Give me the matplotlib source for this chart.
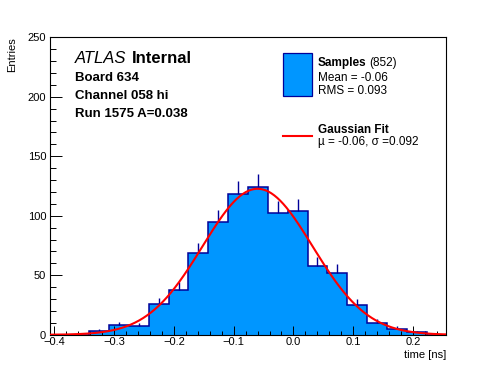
import numpy as np
import matplotlib
matplotlib.use("Agg")
import matplotlib.pyplot as plt
from matplotlib.patches import Rectangle
from matplotlib.lines import Line2D
from matplotlib.ticker import MultipleLocator

plt.rcParams['font.family'] = ['Liberation Sans', 'DejaVu Sans']

# Histogram of sample times (20 bins)
x_min = -0.408
x_max = 0.256
counts = [0, 0, 3, 8, 7, 26, 38, 69, 95, 118, 124, 102, 104, 58, 52, 25, 10, 5, 2, 0]
n_samples = 852
mean_val = -0.06
rms_val = 0.093
# Gaussian fit parameters
fit_mu = -0.06
fit_sigma = 0.092

edges = np.linspace(x_min, x_max, len(counts) + 1)
centers = 0.5 * (edges[:-1] + edges[1:])
counts = np.array(counts)
bin_w = edges[1] - edges[0]

fill_col = '#0096ff'
line_col = '#000099'

fig = plt.figure(figsize=(4.96, 3.72), dpi=100)
ax = fig.add_axes([0.1, 0.1, 0.8, 0.8])

ax.stairs(counts, edges, fill=True, color=fill_col, zorder=1)
ax.stairs(counts, edges, fill=False, color=line_col, linewidth=1.1, zorder=2)

# upper half of the error bars (lower half sits inside the fill)
nz = counts > 0
ax.vlines(centers[nz], counts[nz], counts[nz] + np.sqrt(counts[nz]),
          color=line_col, linewidth=1.0, zorder=2)

# Gaussian fit curve
xs = np.linspace(x_min, x_max, 400)
amp = n_samples * bin_w / (fit_sigma * np.sqrt(2 * np.pi))
ax.plot(xs, amp * np.exp(-0.5 * ((xs - fit_mu) / fit_sigma) ** 2),
        color='red', linewidth=1.5, zorder=3)

ax.set_xlim(x_min, x_max)
ax.set_ylim(0, 250)
ax.xaxis.set_major_locator(MultipleLocator(0.1))
ax.xaxis.set_minor_locator(MultipleLocator(0.02))
ax.yaxis.set_major_locator(MultipleLocator(50))
ax.yaxis.set_minor_locator(MultipleLocator(10))
ax.tick_params(axis='x', which='major', direction='in', length=6.5, width=0.7,
               labelsize=8, pad=1.5)
ax.tick_params(axis='x', which='minor', direction='in', length=3.2, width=0.7)
ax.tick_params(axis='y', which='major', direction='in', length=8.6, width=0.7,
               labelsize=8, pad=2.5)
ax.tick_params(axis='y', which='minor', direction='in', length=4.3, width=0.7)
for s in ax.spines.values():
    s.set_linewidth(0.8)

fig.text(0.9, 0.046, 'time [ns]', ha='right', va='center', fontsize=8)
fig.text(0.024, 0.9, 'Entries', rotation=90, ha='center', va='top', fontsize=8)


def fy(py):
    return 1 - py / 372.0


def text_after(t, gap_px, s, **kw):
    # place a second text right after an existing one on the same baseline
    fig.canvas.draw()
    bb = t.get_window_extent()
    x, y = t.get_position()
    return fig.text((bb.x1 + gap_px) / 496, y, s, va='baseline', **kw)


# ATLAS label block
atl = fig.text(75 / 496, fy(63.3), 'ATLAS', style='italic', fontsize=12, va='baseline')
text_after(atl, 5, 'Internal', weight='bold', fontsize=12)
fig.text(75 / 496, fy(80.7), 'Board 634', weight='bold', fontsize=9.5, va='baseline')
fig.text(75 / 496, fy(99.3), 'Channel 058 hi', weight='bold', fontsize=9.5, va='baseline')
fig.text(75 / 496, fy(116.7), 'Run 1575 A=0.038', weight='bold', fontsize=9.5, va='baseline')

# legend, drawn by hand like ROOT's TLegend
fig.patches.append(Rectangle((283.3 / 496, fy(96)), 28.4 / 496, 42.7 / 372,
                             transform=fig.transFigure, facecolor=fill_col,
                             edgecolor=line_col, linewidth=0.9))
smp = fig.text(317.7 / 496, fy(65.7), 'Samples', weight='bold', fontsize=8.5, va='baseline')
text_after(smp, 3, '(%d)' % n_samples, fontsize=8.5)
fig.text(317.7 / 496, fy(81), 'Mean = %.2f' % mean_val, fontsize=8.5, va='baseline')
fig.text(317.7 / 496, fy(94.3), 'RMS = %.3f' % rms_val, fontsize=8.5, va='baseline')

fig.lines.append(Line2D([283.3 / 496, 311.7 / 496], [fy(136), fy(136)],
                        transform=fig.transFigure, color='red', linewidth=1.5))
fig.text(317.7 / 496, fy(132.7), 'Gaussian Fit', weight='bold', fontsize=8.5, va='baseline')
fig.text(317.7 / 496, fy(145), '\u00b5 = %.2f, \u03c3 =%.3f' % (fit_mu, fit_sigma),
         fontsize=8.5, va='baseline')

fig.savefig('out.png', dpi=100)
